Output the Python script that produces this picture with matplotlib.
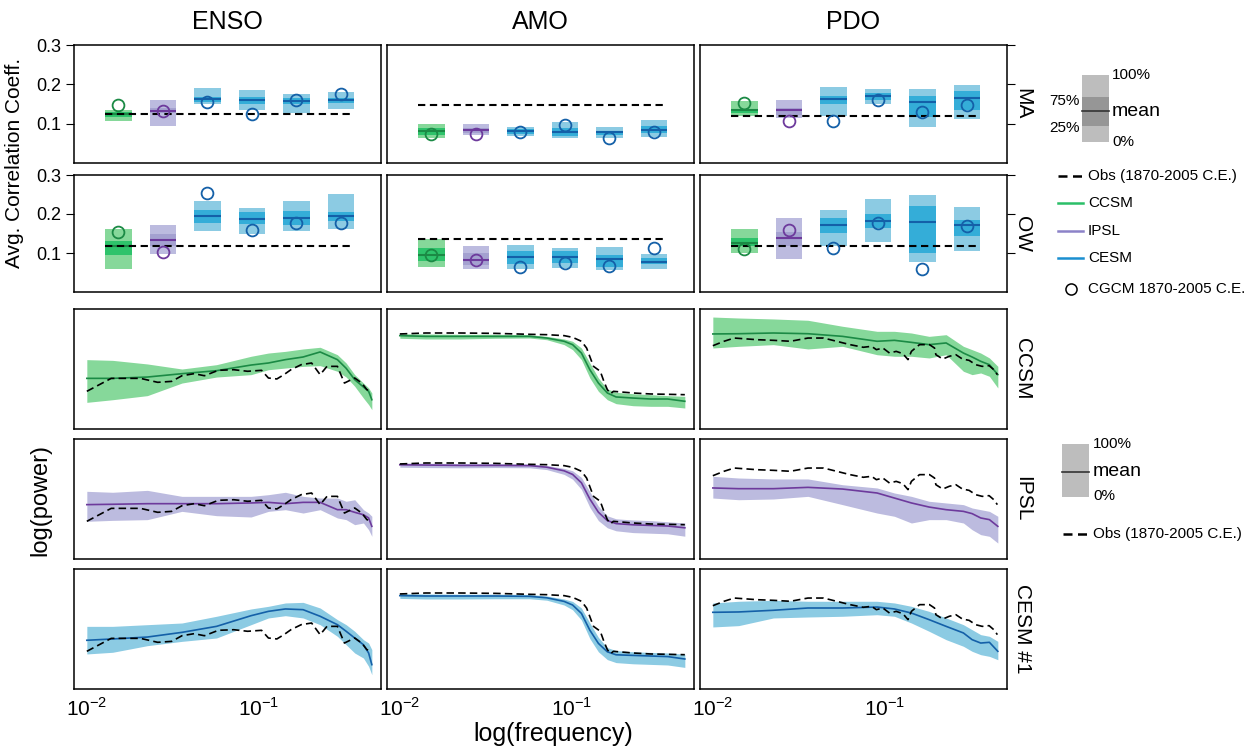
import matplotlib.pyplot as plt
import matplotlib.transforms as mtransforms
from matplotlib.patches import Rectangle
from matplotlib.ticker import NullLocator

plt.rcParams['font.family'] = ['Liberation Sans', 'DejaVu Sans']
plt.rcParams['mathtext.fontset'] = 'custom'
plt.rcParams['mathtext.rm'] = 'Liberation Sans'

W, H = 1256, 752

indices = ['ENSO', 'AMO', 'PDO']
box_models = ['CCSM', 'IPSL', 'CESM', 'CESM', 'CESM', 'CESM']
box_pos = [1, 2, 3, 4, 5, 6]

# ---- avg. correlation coefficients (min, 25%, 75%, max, mean, CGCM, obs)
enso_ma_lo = [0.108, 0.095, 0.149, 0.135, 0.126, 0.137]
enso_ma_q25 = [0.116, 0.126, 0.156, 0.150, 0.150, 0.152]
enso_ma_q75 = [0.129, 0.139, 0.169, 0.169, 0.165, 0.166]
enso_ma_hi = [0.135, 0.160, 0.191, 0.186, 0.176, 0.181]
enso_ma_mean = [0.125, 0.132, 0.163, 0.160, 0.158, 0.159]
enso_ma_cgcm = [0.147, 0.132, 0.155, 0.125, 0.159, 0.176]
enso_ma_obs = 0.125

enso_ow_lo = [0.060, 0.098, 0.157, 0.150, 0.156, 0.162]
enso_ow_q25 = [0.096, 0.119, 0.177, 0.174, 0.173, 0.182]
enso_ow_q75 = [0.132, 0.150, 0.211, 0.206, 0.207, 0.205]
enso_ow_hi = [0.162, 0.173, 0.234, 0.215, 0.234, 0.252]
enso_ow_mean = [0.119, 0.134, 0.195, 0.187, 0.191, 0.195]
enso_ow_cgcm = [0.153, 0.103, 0.255, 0.158, 0.177, 0.177]
enso_ow_obs = 0.119

amo_ma_lo = [0.064, 0.072, 0.069, 0.064, 0.064, 0.066]
amo_ma_q25 = [0.071, 0.076, 0.074, 0.069, 0.071, 0.076]
amo_ma_q75 = [0.088, 0.090, 0.087, 0.088, 0.082, 0.094]
amo_ma_hi = [0.098, 0.098, 0.091, 0.104, 0.091, 0.109]
amo_ma_mean = [0.082, 0.083, 0.082, 0.078, 0.078, 0.084]
amo_ma_cgcm = [0.074, 0.075, 0.080, 0.097, 0.063, 0.079]
amo_ma_obs = 0.148

amo_ow_lo = [0.064, 0.060, 0.060, 0.062, 0.057, 0.058]
amo_ow_q25 = [0.080, 0.068, 0.071, 0.075, 0.063, 0.071]
amo_ow_q75 = [0.113, 0.100, 0.105, 0.105, 0.095, 0.087]
amo_ow_hi = [0.137, 0.119, 0.121, 0.114, 0.116, 0.098]
amo_ow_mean = [0.096, 0.082, 0.089, 0.091, 0.084, 0.077]
amo_ow_cgcm = [0.096, 0.082, 0.064, 0.074, 0.067, 0.112]
amo_ow_obs = 0.137

pdo_ma_lo = [0.119, 0.114, 0.120, 0.151, 0.092, 0.112]
pdo_ma_q25 = [0.126, 0.121, 0.150, 0.160, 0.116, 0.135]
pdo_ma_q75 = [0.138, 0.141, 0.171, 0.178, 0.171, 0.183]
pdo_ma_hi = [0.157, 0.160, 0.194, 0.189, 0.189, 0.199]
pdo_ma_mean = [0.134, 0.135, 0.162, 0.170, 0.155, 0.165]
pdo_ma_cgcm = [0.152, 0.107, 0.107, 0.160, 0.129, 0.148]
pdo_ma_obs = 0.119

pdo_ow_lo = [0.099, 0.085, 0.119, 0.128, 0.076, 0.105]
pdo_ow_q25 = [0.119, 0.117, 0.151, 0.165, 0.101, 0.144]
pdo_ow_q75 = [0.138, 0.153, 0.189, 0.199, 0.221, 0.185]
pdo_ow_hi = [0.162, 0.191, 0.211, 0.239, 0.250, 0.219]
pdo_ow_mean = [0.126, 0.138, 0.173, 0.183, 0.179, 0.173]
pdo_ow_cgcm = [0.110, 0.160, 0.112, 0.177, 0.059, 0.168]
pdo_ow_obs = 0.117

# ---- spectra (log power, arbitrary units)
freq_enso = [0.0112, 0.0158, 0.0251, 0.0398, 0.0631, 0.100, 0.126, 0.158,
             0.200, 0.251, 0.316, 0.355, 0.398, 0.447, 0.479, 0.500]
enso_ccsm_mean = [4.22, 4.22, 4.33, 4.61, 4.86, 5.33, 5.50, 5.78, 6.00, 6.42, 5.78, 5.06, 4.11, 3.50, 3.14, 2.44]
enso_ccsm_lo = [2.22, 2.44, 2.78, 3.83, 4.33, 4.53, 4.94, 5.08, 5.22, 5.28, 4.81, 4.33, 3.56, 2.58, 2.03, 1.61]
enso_ccsm_hi = [5.78, 5.72, 5.42, 5.00, 5.36, 6.06, 6.33, 6.47, 6.67, 6.81, 6.19, 5.50, 4.53, 3.83, 3.42, 3.00]
enso_ipsl_mean = [4.53, 4.56, 4.61, 4.61, 4.61, 4.67, 4.72, 4.61, 4.72, 4.72, 4.11, 4.11, 3.89, 3.69, 3.42, 2.72]
enso_ipsl_lo = [3.14, 3.22, 3.28, 3.97, 3.61, 3.50, 3.97, 4.11, 3.83, 4.11, 3.42, 3.28, 2.86, 3.00, 2.44, 1.89]
enso_ipsl_hi = [5.64, 5.56, 5.72, 5.22, 5.22, 5.22, 5.36, 5.56, 5.22, 5.08, 5.08, 4.81, 4.94, 4.11, 3.83, 3.56]
enso_cesm_mean = [4.06, 4.17, 4.33, 4.72, 5.22, 6.11, 6.47, 6.67, 6.61, 6.06, 5.36, 4.81, 4.25, 3.69, 3.00, 2.03]
enso_cesm_lo = [2.92, 3.06, 3.61, 3.97, 4.25, 5.36, 5.92, 6.11, 5.92, 5.36, 4.39, 3.69, 3.00, 2.58, 1.89, 1.19]
enso_cesm_hi = [5.22, 5.22, 5.36, 5.50, 6.06, 6.67, 6.89, 7.17, 7.22, 6.75, 5.78, 5.36, 4.81, 4.11, 3.83, 3.28]

freq_enso_obs = [0.0112, 0.0155, 0.0229, 0.0288, 0.0347, 0.0398, 0.0468, 0.0537, 0.0646,
                 0.0794, 0.0955, 0.115, 0.126, 0.141, 0.155, 0.170, 0.195, 0.224, 0.251,
                 0.275, 0.316, 0.347, 0.398, 0.437, 0.468, 0.500]
enso_obs = [3.14, 4.22, 4.22, 3.89, 3.97, 4.44, 4.61, 4.44, 4.89, 4.94, 4.81, 4.89, 4.25,
            4.17, 4.53, 4.94, 5.36, 5.50, 4.53, 5.22, 5.22, 3.83, 4.25, 3.83, 3.28, 3.14]

freq_amo = [0.0112, 0.0158, 0.0251, 0.0398, 0.0631, 0.0794, 0.100, 0.112, 0.126,
            0.141, 0.158, 0.178, 0.200, 0.251, 0.316, 0.398, 0.500]
amo_ccsm_mean = [7.78, 7.72, 7.72, 7.72, 7.72, 7.58, 7.31, 7.03, 6.33, 4.94, 3.83, 3.00, 2.67, 2.58, 2.50, 2.50, 2.31]
amo_ccsm_lo = [7.56, 7.50, 7.50, 7.56, 7.58, 7.44, 7.03, 6.61, 5.78, 4.25, 3.14, 2.44, 2.11, 1.94, 1.89, 1.89, 1.75]
amo_ccsm_hi = [7.94, 7.92, 7.89, 7.89, 7.86, 7.72, 7.50, 7.31, 6.75, 5.50, 4.25, 3.33, 3.06, 2.94, 2.86, 2.78, 2.72]
amo_ipsl_mean = [7.85, 7.83, 7.80, 7.80, 7.78, 7.65, 7.35, 7.05, 6.35, 5.00, 3.90, 3.20, 2.95, 2.85, 2.80, 2.75, 2.60]
amo_ipsl_lo = [7.65, 7.62, 7.60, 7.62, 7.60, 7.45, 7.05, 6.65, 5.80, 4.30, 3.20, 2.60, 2.35, 2.20, 2.15, 2.10, 1.90]
amo_ipsl_hi = [8.00, 7.98, 7.95, 7.95, 7.92, 7.80, 7.55, 7.35, 6.80, 5.60, 4.40, 3.60, 3.35, 3.25, 3.20, 3.10, 3.00]
amo_cesm_mean = [7.78, 7.75, 7.75, 7.75, 7.72, 7.60, 7.30, 7.00, 6.30, 4.90, 3.80, 3.10, 2.85, 2.80, 2.75, 2.70, 2.50]
amo_cesm_lo = [7.55, 7.50, 7.50, 7.52, 7.52, 7.40, 7.00, 6.60, 5.75, 4.20, 3.10, 2.45, 2.20, 2.10, 2.05, 2.00, 1.80]
amo_cesm_hi = [7.95, 7.92, 7.90, 7.90, 7.88, 7.75, 7.50, 7.30, 6.75, 5.50, 4.30, 3.45, 3.20, 3.10, 3.05, 3.00, 2.90]

freq_amo_obs = [0.0112, 0.0158, 0.0251, 0.0398, 0.0631, 0.0794, 0.100, 0.112, 0.126, 0.135,
                0.148, 0.162, 0.170, 0.178, 0.186, 0.193, 0.251, 0.316, 0.398, 0.500]
amo_obs = [7.92, 8.00, 8.00, 7.97, 7.89, 7.86, 7.78, 7.64, 7.31, 6.75, 5.22, 4.81, 3.97,
           3.28, 2.94, 3.14, 3.00, 2.92, 2.89, 2.86]

freq_pdo = [0.0112, 0.0158, 0.0251, 0.0398, 0.0631, 0.100, 0.126, 0.158, 0.200,
            0.251, 0.316, 0.355, 0.398, 0.447, 0.500]
pdo_ccsm_mean = [7.92, 7.94, 8.00, 7.94, 7.72, 7.31, 7.39, 7.22, 7.03, 7.17, 6.33, 6.00, 5.64, 5.36, 4.53]
pdo_ccsm_lo = [6.75, 6.89, 7.03, 6.67, 6.89, 6.19, 6.06, 6.06, 5.92, 6.19, 4.81, 4.53, 4.67, 4.39, 3.42]
pdo_ccsm_hi = [9.33, 9.25, 9.17, 9.06, 8.56, 8.14, 8.14, 8.00, 7.72, 7.86, 6.89, 6.61, 6.33, 5.92, 5.22]
pdo_ipsl_mean = [5.92, 5.86, 5.86, 5.97, 5.83, 5.50, 5.08, 4.67, 4.33, 4.11, 3.97, 3.78, 3.42, 3.28, 2.72]
pdo_ipsl_lo = [5.08, 4.94, 5.00, 5.22, 4.53, 3.83, 3.56, 3.00, 3.28, 3.28, 3.00, 2.44, 2.03, 1.89, 1.33]
pdo_ipsl_hi = [6.89, 6.75, 6.67, 6.67, 6.19, 5.92, 5.50, 5.22, 4.81, 4.67, 4.53, 4.25, 4.11, 3.97, 3.56]
pdo_cesm_mean = [6.39, 6.42, 6.56, 6.75, 6.75, 6.83, 6.67, 6.33, 5.78, 5.22, 4.67, 4.11, 3.83, 3.89, 3.14]
pdo_cesm_lo = [5.17, 5.28, 5.92, 6.00, 6.06, 6.19, 6.06, 5.50, 4.81, 4.11, 3.56, 3.14, 2.86, 2.72, 2.44]
pdo_cesm_hi = [7.17, 7.31, 7.39, 7.31, 7.31, 7.31, 7.17, 6.89, 6.47, 5.92, 5.36, 4.94, 4.53, 4.39, 3.97]

freq_pdo_obs = [0.0112, 0.0130, 0.0149, 0.0203, 0.0251, 0.0315, 0.0398, 0.0490, 0.0583,
                0.0697, 0.0832, 0.0929, 0.0991, 0.108, 0.118, 0.129, 0.141, 0.151, 0.158,
                0.176, 0.201, 0.215, 0.219, 0.240, 0.262, 0.286, 0.312, 0.341, 0.372,
                0.406, 0.445, 0.474, 0.497]
pdo_obs = [6.94, 7.31, 7.58, 7.44, 7.39, 7.31, 7.58, 7.58, 7.31, 7.03, 6.81, 6.89, 6.61,
           6.75, 6.33, 6.47, 6.28, 5.78, 6.47, 7.03, 7.03, 6.75, 6.19, 5.83, 6.06, 6.19,
           5.83, 5.72, 5.36, 5.22, 5.28, 4.94, 4.53]

# ---- styling
light = {'CCSM': '#86d89a', 'IPSL': '#bcbbdf', 'CESM': '#8ccbe3'}
mid = {'CCSM': '#2ec36b', 'IPSL': '#a4a1d0', 'CESM': '#34add8'}
dark = {'CCSM': '#1b8a45', 'IPSL': '#6d3a9c', 'CESM': '#1460a8'}
legend_line = {'CCSM': '#2bbf68', 'IPSL': '#8c82c8', 'CESM': '#1a8fd0'}

box_panels = {
    ('ENSO', 'MA'): (enso_ma_lo, enso_ma_q25, enso_ma_q75, enso_ma_hi, enso_ma_mean, enso_ma_cgcm, enso_ma_obs),
    ('ENSO', 'OW'): (enso_ow_lo, enso_ow_q25, enso_ow_q75, enso_ow_hi, enso_ow_mean, enso_ow_cgcm, enso_ow_obs),
    ('AMO', 'MA'): (amo_ma_lo, amo_ma_q25, amo_ma_q75, amo_ma_hi, amo_ma_mean, amo_ma_cgcm, amo_ma_obs),
    ('AMO', 'OW'): (amo_ow_lo, amo_ow_q25, amo_ow_q75, amo_ow_hi, amo_ow_mean, amo_ow_cgcm, amo_ow_obs),
    ('PDO', 'MA'): (pdo_ma_lo, pdo_ma_q25, pdo_ma_q75, pdo_ma_hi, pdo_ma_mean, pdo_ma_cgcm, pdo_ma_obs),
    ('PDO', 'OW'): (pdo_ow_lo, pdo_ow_q25, pdo_ow_q75, pdo_ow_hi, pdo_ow_mean, pdo_ow_cgcm, pdo_ow_obs),
}

spec_panels = {
    ('ENSO', 'CCSM'): (freq_enso, enso_ccsm_lo, enso_ccsm_hi, enso_ccsm_mean),
    ('ENSO', 'IPSL'): (freq_enso, enso_ipsl_lo, enso_ipsl_hi, enso_ipsl_mean),
    ('ENSO', 'CESM'): (freq_enso, enso_cesm_lo, enso_cesm_hi, enso_cesm_mean),
    ('AMO', 'CCSM'): (freq_amo, amo_ccsm_lo, amo_ccsm_hi, amo_ccsm_mean),
    ('AMO', 'IPSL'): (freq_amo, amo_ipsl_lo, amo_ipsl_hi, amo_ipsl_mean),
    ('AMO', 'CESM'): (freq_amo, amo_cesm_lo, amo_cesm_hi, amo_cesm_mean),
    ('PDO', 'CCSM'): (freq_pdo, pdo_ccsm_lo, pdo_ccsm_hi, pdo_ccsm_mean),
    ('PDO', 'IPSL'): (freq_pdo, pdo_ipsl_lo, pdo_ipsl_hi, pdo_ipsl_mean),
    ('PDO', 'CESM'): (freq_pdo, pdo_cesm_lo, pdo_cesm_hi, pdo_cesm_mean),
}
spec_obs = {'ENSO': (freq_enso_obs, enso_obs), 'AMO': (freq_amo_obs, amo_obs),
            'PDO': (freq_pdo_obs, pdo_obs)}

fig = plt.figure(figsize=(W / 100, H / 100), dpi=100)


def px_axes(x0, y0, x1, y1):
    return fig.add_axes([x0 / W, 1 - y1 / H, (x1 - x0) / W, (y1 - y0) / H])


col_x = [(74, 381), (387, 694), (700, 1007)]
box_rows = [('MA', 45, 163), ('OW', 175, 292)]
spec_rows = [('CCSM', 'CCSM', 309, 429), ('IPSL', 'IPSL', 439, 559), ('CESM', 'CESM #1', 569, 689)]

# ---- top: correlation boxes
for c, idx in enumerate(indices):
    x0, x1 = col_x[c]
    if c == 0:
        fig.text((x0 + x1) / 2 / W, 1 - 22 / H, idx, fontsize=18, ha='center', va='center')
    else:
        fig.text((x0 + x1) / 2 / W, 1 - 22 / H, idx, fontsize=18, ha='center', va='center')
    for rname, y0, y1 in box_rows:
        ax = px_axes(x0, y0, x1, y1)
        lo, q25, q75, hi, mean, cgcm, obs = box_panels[(idx, rname)]
        for i, m in enumerate(box_models):
            x = box_pos[i]
            ax.bar(x, hi[i] - lo[i], bottom=lo[i], width=0.6, color=light[m], linewidth=0, zorder=1)
            ax.bar(x, q75[i] - q25[i], bottom=q25[i], width=0.6, color=mid[m], linewidth=0, zorder=2)
            ax.hlines(mean[i], x - 0.3, x + 0.3, color=dark[m], lw=1.5, zorder=3)
        ax.hlines(obs, box_pos[0] - 0.3, box_pos[-1] + 0.3, colors='k', lw=1.5,
                  linestyles=(0, (3.5, 2.2)), zorder=4)
        for i, m in enumerate(box_models):
            ax.plot(box_pos[i], cgcm[i], 'o', mfc='none', mec=dark[m], ms=8.5, mew=1.3, zorder=5)
        ax.set_xlim(0, 6.9)
        ax.set_ylim(0, 0.3)
        ax.set_xticks([])
        ax.set_yticks([0.1, 0.2, 0.3])
        ax.tick_params(axis='y', direction='out', length=6, labelsize=13)
        if c == 0:
            ax.set_yticklabels(['0.1', '0.2', '0.3'])
        elif c == 1:
            ax.set_yticks([])
        else:
            ax.yaxis.tick_right()
            ax.set_yticklabels([])
            ax.text(1.05, 0.5, rname, transform=ax.transAxes, rotation=-90,
                    fontsize=15, ha='center', va='center')
        for s in ax.spines.values():
            s.set_linewidth(1.1)

# ---- bottom: spectra
for c, idx in enumerate(indices):
    x0, x1 = col_x[c]
    for r, (model, label, y0, y1) in enumerate(spec_rows):
        ax = px_axes(x0, y0, x1, y1)
        freq, lo, hi, mean = spec_panels[(idx, model)]
        ax.fill_between(freq, lo, hi, color=light[model], linewidth=0, zorder=1)
        ax.plot(freq, mean, color=dark[model], lw=1.2, zorder=2)
        of, ov = spec_obs[idx]
        ax.plot(of, ov, color='k', lw=1.2, ls=(0, (4.5, 2.5)), zorder=3)
        ax.set_xscale('log')
        ax.set_xlim(0.00944, 0.565)
        ax.set_ylim(0, 10)
        ax.set_yticks([])
        ax.xaxis.set_minor_locator(NullLocator())
        ax.tick_params(axis='x', length=0, labelsize=15, pad=6)
        if r == 2:
            ax.set_xticks([0.01, 0.1])
            ax.set_xticklabels([r'$10^{-2}$', r'$10^{-1}$'])
            shift = mtransforms.ScaledTranslation(0.08, 0, fig.dpi_scale_trans)
            for lbl in ax.get_xticklabels():
                lbl.set_transform(lbl.get_transform() + shift)
        else:
            ax.set_xticks([])
        if c == 2:
            ax.text(1.05, 0.5, label, transform=ax.transAxes, rotation=-90,
                    fontsize=15, ha='center', va='center')
        for s in ax.spines.values():
            s.set_linewidth(1.1)

fig.text(15 / W, 1 - 163 / H, 'Avg. Correlation Coeff.', rotation=90, fontsize=15,
         ha='center', va='center')
fig.text(40 / W, 1 - 500 / H, 'log(power)', rotation=90, fontsize=17, ha='center', va='center')
fig.text(553 / W, 1 - 734 / H, 'log(frequency)', fontsize=18, ha='center', va='center')

# ---- legends drawn in pixel space
leg = fig.add_axes([0, 0, 1, 1], zorder=-1)
leg.set_xlim(0, W)
leg.set_ylim(H, 0)
leg.axis('off')

leg.add_patch(Rectangle((1082, 75), 27, 67, color='#bdbdbd', lw=0))
leg.add_patch(Rectangle((1082, 97), 27, 29, color='#969696', lw=0))
leg.plot([1082, 1109], [111, 111], color='#333333', lw=1.2)
leg.text(1112, 75, '100%', fontsize=11, va='center', ha='left')
leg.text(1112, 111, 'mean', fontsize=14, va='center', ha='left')
leg.text(1112, 142, '0%', fontsize=11, va='center', ha='left')
leg.text(1080, 101, '75%', fontsize=11, va='center', ha='right')
leg.text(1080, 128, '25%', fontsize=11, va='center', ha='right')

leg.plot([1058, 1083], [176, 176], color='k', lw=1.8, ls=(0, (3.6, 2.2)))
leg.text(1088, 176, 'Obs (1870-2005 C.E.)', fontsize=11, va='center')
for name, yy in zip(['CCSM', 'IPSL', 'CESM'], [203, 231, 258]):
    leg.plot([1058, 1083], [yy, yy], color=legend_line[name], lw=1.8)
    leg.text(1088, yy, name, fontsize=11, va='center')
leg.plot([1071], [289], 'o', mfc='none', mec='k', ms=8, mew=1.1)
leg.text(1088, 289, 'CGCM 1870-2005 C.E.', fontsize=11, va='center')

leg.add_patch(Rectangle((1062, 444), 27, 53, color='#bdbdbd', lw=0))
leg.plot([1062, 1089], [472, 472], color='#333333', lw=1.2)
leg.text(1093, 444, '100%', fontsize=11, va='center', ha='left')
leg.text(1093, 471, 'mean', fontsize=14, va='center', ha='left')
leg.text(1093, 496, '0%', fontsize=11, va='center', ha='left')
leg.plot([1063, 1088], [534, 534], color='k', lw=1.8, ls=(0, (3.6, 2.2)))
leg.text(1093, 534, 'Obs (1870-2005 C.E.)', fontsize=11, va='center')

fig.savefig('out.png', dpi=100)
